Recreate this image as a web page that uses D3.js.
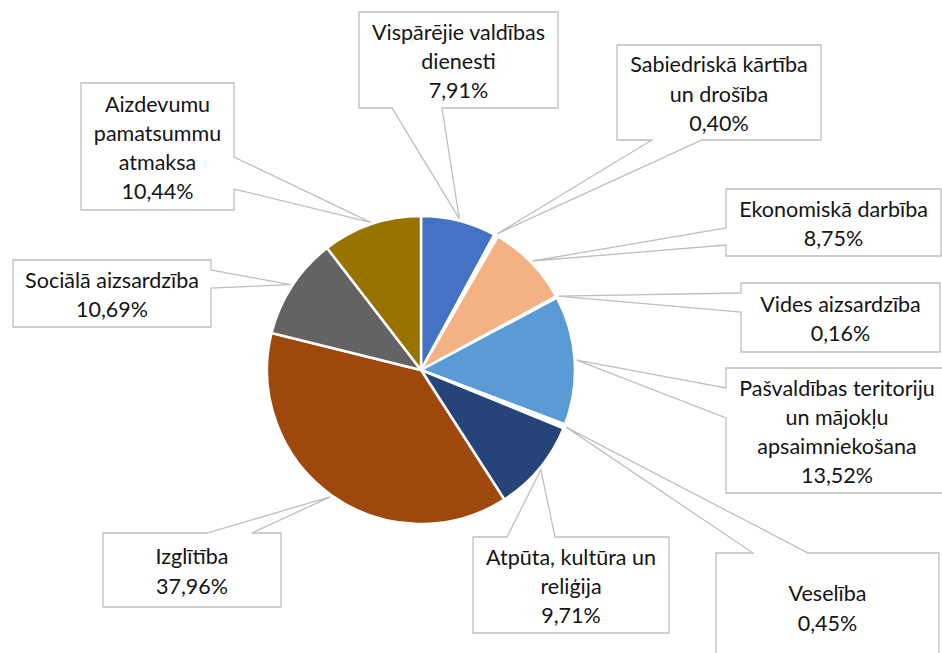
<!DOCTYPE html>
<html>
<head>
<meta charset="utf-8">
<script src="https://cdn.jsdelivr.net/npm/d3@7"></script>
<style>
  body { margin: 0; background: #fff; }
  svg { display: block; }
  .callout text { font-family: Lato, "Open Sans", sans-serif; font-size: 21.5px; fill: #141414; }
</style>
</head>
<body>
<div id="chart"></div>
<script>
// categories, clockwise from 12 o'clock ("\n" = line break in the label)
var categories = [
    "Vispārējie valdības\ndienesti",
    "Sabiedriskā kārtība\nun drošība",
    "Ekonomiskā darbība",
    "Vides aizsardzība",
    "Pašvaldības teritoriju\nun mājokļu\napsaimniekošana",
    "Veselība",
    "Atpūta, kultūra un\nreliģija",
    "Izglītība",
    "Sociālā aizsardzība",
    "Aizdevumu\npamatsummu\natmaksa"
];
var shares = [7.91, 0.40, 8.75, 0.16, 13.52, 0.45, 9.71, 37.96, 10.69, 10.44];
var colors = ["#4472C4", "#ffffff", "#F4B183", "#ffffff", "#5B9BD5",
              "#ffffff", "#264478", "#9E480E", "#636363", "#997300"];

// label box placement (layout only), pointer base is on the named side
var callouts = [
    {x: 359, y: 12,  w: 199, h: 96,  side: "bottom", b: [392, 442]},
    {x: 617, y: 45,  w: 204, h: 95,  side: "bottom", b: [652, 702]},
    {x: 726, y: 189, w: 215, h: 67,  side: "left",   b: [228, 245]},
    {x: 741, y: 283, w: 199, h: 69,  side: "left",   b: [293, 312]},
    {x: 726, y: 368, w: 222, h: 125, side: "left",   b: [388, 418]},
    {x: 716, y: 553, w: 223, h: 108, side: "top",    b: [753, 808]},
    {x: 473, y: 537, w: 196, h: 96,  side: "top",    b: [507, 555]},
    {x: 103, y: 533, w: 178, h: 74,  side: "top",    b: [207, 252]},
    {x: 13,  y: 260, w: 198, h: 67,  side: "right",  b: [270, 288]},
    {x: 81,  y: 83,  w: 153, h: 127, side: "right",  b: [157, 189]}
];

var width = 942, height = 653;
var cx = 421, cy = 370, radius = 154;
var lineH = 29.3;

var lv = d3.formatLocale({decimal: ",", thousands: " ", grouping: [3], currency: ["", ""]});
var fmt = lv.format(".2f");

var svg = d3.select("#chart").append("svg")
    .attr("width", width)
    .attr("height", height);

var pie = d3.pie().sort(null).value(function(d) { return d; });
var arcs = pie(shares);

var arc = d3.arc().innerRadius(0).outerRadius(radius);
var tipArc = d3.arc().innerRadius(radius + 2).outerRadius(radius + 2);

var g = svg.append("g").attr("transform", "translate(" + cx + "," + cy + ")");

g.selectAll("path.slice")
    .data(arcs)
    .enter().append("path")
    .attr("class", "slice")
    .attr("d", arc)
    .attr("fill", function(d, i) { return colors[i]; })
    .attr("stroke", "#fff")
    .attr("stroke-width", 2.5)
    .attr("stroke-linejoin", "round");

function calloutPath(c, tip) {
    var x0 = c.x, y0 = c.y, x1 = c.x + c.w, y1 = c.y + c.h;
    var p;
    if (c.side == "bottom") {
        p = [[x0, y0], [x1, y0], [x1, y1], [c.b[1], y1], tip, [c.b[0], y1], [x0, y1]];
    } else if (c.side == "top") {
        p = [[x0, y0], [c.b[0], y0], tip, [c.b[1], y0], [x1, y0], [x1, y1], [x0, y1]];
    } else if (c.side == "left") {
        p = [[x0, y0], [x1, y0], [x1, y1], [x0, y1], [x0, c.b[1]], tip, [x0, c.b[0]]];
    } else {
        p = [[x0, y0], [x1, y0], [x1, c.b[0]], tip, [x1, c.b[1]], [x1, y1], [x0, y1]];
    }
    return "M" + p.map(function(q) { return q[0] + "," + q[1]; }).join("L") + "Z";
}

var labels = svg.selectAll("g.callout")
    .data(arcs)
    .enter().append("g")
    .attr("class", "callout");

labels.append("path")
    .attr("d", function(d, i) {
        var t = tipArc.centroid(d);
        return calloutPath(callouts[i], [t[0] + cx, t[1] + cy]);
    })
    .attr("fill", "#fff")
    .attr("stroke", "#BFBFBF")
    .attr("stroke-width", 1.3)
    .attr("stroke-linejoin", "miter");

labels.each(function(d, i) {
    var c = callouts[i];
    var lines = categories[i].split("\n").concat([fmt(shares[i]) + "%"]);
    var midY = c.y + c.h / 2 + 1;
    var top = midY - (lines.length - 1) * lineH / 2;
    var t = d3.select(this).append("text")
        .attr("text-anchor", "middle")
        .attr("dominant-baseline", "central");
    lines.forEach(function(s, k) {
        t.append("tspan")
            .attr("x", c.x + c.w / 2)
            .attr("y", top + k * lineH)
            .text(s);
    });
});
</script>
</body>
</html>
